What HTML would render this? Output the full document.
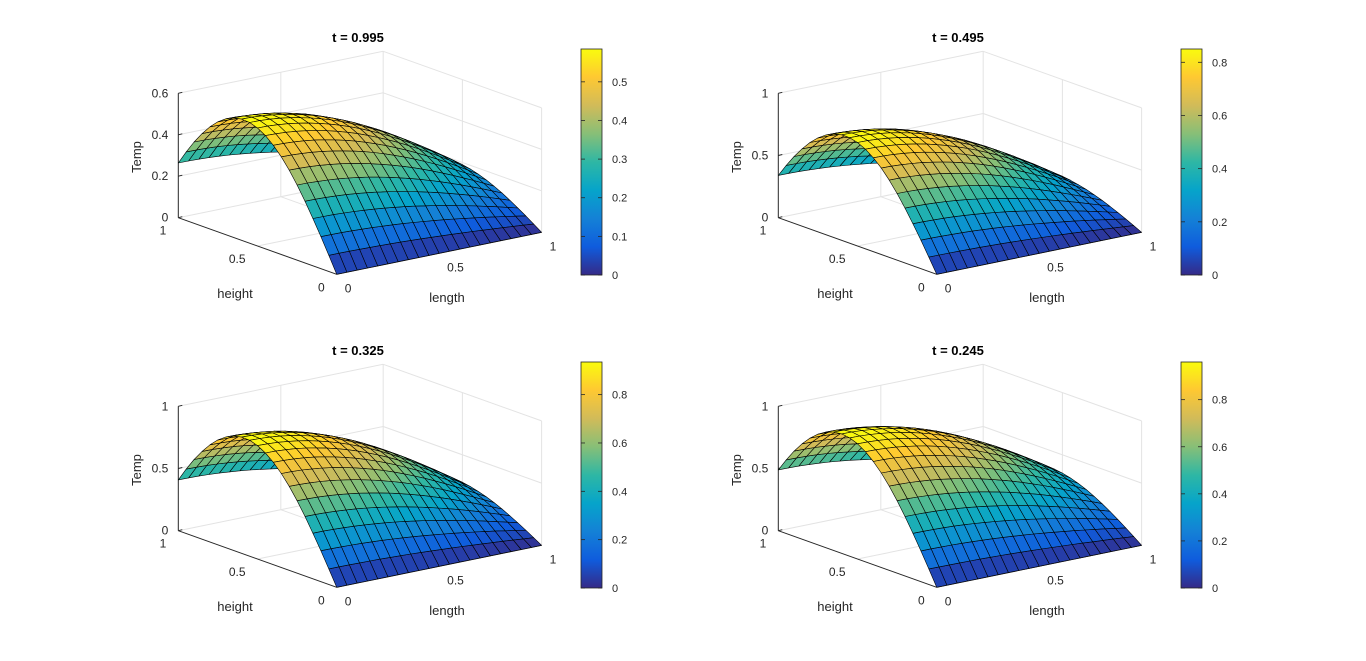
<!DOCTYPE html>
<html><head><meta charset="utf-8"><style>
html,body{margin:0;padding:0;background:#fff;}
svg{display:block;font-family:"Liberation Sans",Arial,sans-serif;}
</style></head><body>
<svg id="s" width="1366" height="661" viewBox="0 0 1366 661" xmlns="http://www.w3.org/2000/svg">
<text x="358" y="42" font-size="13" font-weight="bold" text-anchor="middle" fill="#000">t = 0.995</text>
<text x="958" y="42" font-size="13" font-weight="bold" text-anchor="middle" fill="#000">t = 0.495</text>
<text x="358" y="355" font-size="13" font-weight="bold" text-anchor="middle" fill="#000">t = 0.325</text>
<text x="958" y="355" font-size="13" font-weight="bold" text-anchor="middle" fill="#000">t = 0.245</text>
</svg>
<script>
(function(){
var NS="http://www.w3.org/2000/svg",svg=document.getElementById('s');
function el(n,a,p){var e=document.createElementNS(NS,n);for(var k in a)e.setAttribute(k,a[k]);(p||svg).appendChild(e);return e;}
function txt(x,y,s,a){var e=el('text',Object.assign({x:x,y:y,'font-size':12,fill:'#262626'},a||{}));e.textContent=s;return e;}
var H=['352A87','0F5CDD','1481D6','06A4CA','2EB7A4','87BF77','D1BB59','FEC832','F9FB0E'];
var P=H.map(function(h,i){return [i/8,[parseInt(h.substr(0,2),16),parseInt(h.substr(2,2),16),parseInt(h.substr(4,2),16)]];});
function col(t){t=Math.max(0,Math.min(1,t));for(var i=0;i<P.length-1;i++){if(t<=P[i+1][0]){var f=(t-P[i][0])/(P[i+1][0]-P[i][0]);var c=P[i][1].map(function(v,j){return Math.round(v+(P[i+1][1][j]-v)*f);});return 'rgb('+c.join(',')+')';}}return '#F9FB0E';}
var plots=[
 {ox:0,oy:0,zmax:0.6,zt:[0,0.2,0.4,0.6],A:0.585,c:0.851,k:1.23,cbt:[0,0.1,0.2,0.3,0.4,0.5]},
 {ox:600,oy:0,zmax:1,zt:[0,0.5,1],A:0.85,c:0.869,k:1.3,cbt:[0,0.2,0.4,0.6,0.8]},
 {ox:0,oy:313,zmax:1,zt:[0,0.5,1],A:0.935,c:0.856,k:1.26,cbt:[0,0.2,0.4,0.6,0.8]},
 {ox:600,oy:313,zmax:1,zt:[0,0.5,1],A:0.96,c:0.83,k:1.18,cbt:[0,0.2,0.4,0.6,0.8]}
];
plots.forEach(function(p){
 var F=[336.7+p.ox,274.3+p.oy],L=[204.9,-42],Hv=[-158.4,-56.6],Z=124.4;
 function pr(x,y,z){return [F[0]+L[0]*x+Hv[0]*y, F[1]+L[1]*x+Hv[1]*y-Z*z/p.zmax];}
 function ln(a,b,st,w){el('line',{x1:a[0].toFixed(1),y1:a[1].toFixed(1),x2:b[0].toFixed(1),y2:b[1].toFixed(1),stroke:st,'stroke-width':w||1});}
 var g='#e3e3e3';
 p.zt.forEach(function(z){ln(pr(0,1,z),pr(1,1,z),g);ln(pr(1,1,z),pr(1,0,z),g);});
 ln(pr(0.5,1,0),pr(0.5,1,p.zmax),g);ln(pr(1,0.5,0),pr(1,0.5,p.zmax),g);
 ln(pr(1,1,0),pr(1,1,p.zmax),g);ln(pr(1,0,0),pr(1,0,p.zmax),g);
 ln(pr(0.5,0,0),pr(0.5,1,0),g);ln(pr(0,0.5,0),pr(1,0.5,0),g);
 ln(pr(0,1,0),pr(0,1,p.zmax),'#262626');ln(pr(0,1,0),pr(0,0,0),'#262626');ln(pr(0,0,0),pr(1,0,0),'#262626');
 p.zt.forEach(function(z){var a=pr(0,1,z);ln(a,[a[0]+4,a[1]-1],'#262626');txt(a[0]-10,a[1]+4,String(z),{'text-anchor':'end'});});
 [0,0.5,1].forEach(function(v){var a=pr(0,v,0);txt(a[0]-12,a[1]+17,String(v),{'text-anchor':'end'});var b=pr(v,0,0);txt(b[0]+8,b[1]+18,String(v),{'text-anchor':'start'});});
 txt(235+p.ox,298+p.oy,'height',{'font-size':13,'text-anchor':'middle'});
 txt(447+p.ox,302+p.oy,'length',{'font-size':13,'text-anchor':'middle'});
 var tp=[141+p.ox,157+p.oy];txt(tp[0],tp[1],'Temp',{'font-size':13,'text-anchor':'middle',transform:'rotate(-90 '+tp[0]+' '+tp[1]+')'});
 var N=20,M=20,c=p.c,A=p.A,kk=p.k;
 function T(x,y){return A*Math.cos(kk*x)*Math.sin(c*Math.PI*y);}
 var q=[];
 for(var i=0;i<N;i++)for(var j=0;j<M;j++){
  var x0=i/N,x1=(i+1)/N,y0=j/M,y1=(j+1)/M;
  var pts=[[x0,y0],[x1,y0],[x1,y1],[x0,y1]];
  var zs=pts.map(function(a){return T(a[0],a[1]);});
  var zc=(zs[0]+zs[1]+zs[2]+zs[3])/4;
  var d=160*(x0+x1)/2+204*(y0+y1)/2-147*zc/p.zmax;
  q.push({d:d,pts:pts.map(function(a,k){return pr(a[0],a[1],zs[k]);}),zc:zc});
 }
 q.sort(function(a,b){return b.d-a.d;});
 var grp=el('g',{stroke:'#000','stroke-width':0.6,'stroke-linejoin':'round'});
 q.forEach(function(o){el('polygon',{points:o.pts.map(function(a){return a[0].toFixed(1)+','+a[1].toFixed(1);}).join(' '),fill:col(o.zc/A)},grp);});
 var cx=581+p.ox,cy0=49+p.oy,cy1=275+p.oy,h=cy1-cy0;
 var id='gr'+p.ox+'_'+p.oy;var defs=el('defs',{});var lg=el('linearGradient',{id:id,x1:0,y1:1,x2:0,y2:0},defs);
 for(var k=0;k<=16;k++)el('stop',{offset:(k/16),'stop-color':col(k/16)},lg);
 el('rect',{x:cx,y:cy0,width:21,height:h,fill:'url(#'+id+')',stroke:'#262626','stroke-width':0.8});
 p.cbt.forEach(function(v){var y=cy1-h*v/A;el('line',{x1:cx+21,y1:y,x2:cx+17,y2:y,stroke:'#262626','stroke-width':0.8});el('line',{x1:cx,y1:y,x2:cx+4,y2:y,stroke:'#262626','stroke-width':0.8});txt(cx+31,y+4,String(v),{'font-size':11});});
});
})();
</script>
</body></html>
